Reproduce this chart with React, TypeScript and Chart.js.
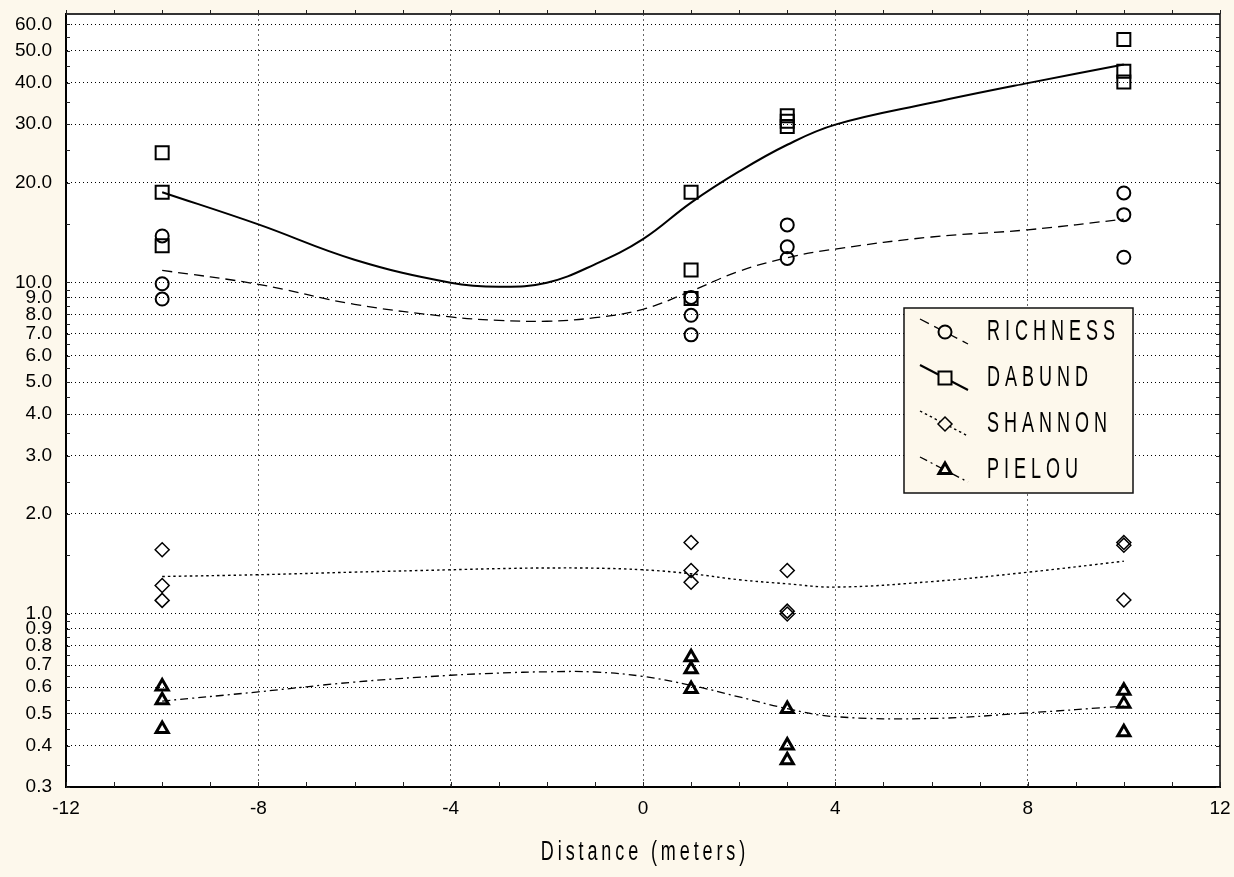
import React, { useEffect, useRef } from 'react';
import { Chart, registerables } from 'chart.js';

Chart.register(...registerables);

const FONT = '"Liberation Sans", Arial, sans-serif';
const BG = '#FDF8EC';

// ---- data ----
const seriesNames = ['RICHNESS', 'DABUND', 'SHANNON', 'PIELOU'];
const sampleX = [-10, -10, -10, 1, 1, 1, 3, 3, 3, 10, 10, 10];
const richness = [13.8, 9.9, 8.9, 9.0, 7.95, 6.94, 14.9, 12.8, 11.8, 18.6, 16.0, 11.9];
const dabund = [24.6, 18.7, 12.9, 18.7, 10.9, 8.93, 31.8, 30.6, 29.5, 54.0, 43.3, 40.2];
const shannon = [1.56, 1.217, 1.097, 1.64, 1.35, 1.245, 1.35, 1.018, 0.998, 1.64, 1.61, 1.10];
const pielou = [0.603, 0.548, 0.449, 0.739, 0.68, 0.593, 0.516, 0.40, 0.361, 0.586, 0.535, 0.439];

const fitX = [-10, -8, -6, -4, -3, -2, -1, 0, 1, 2, 3, 4, 6, 8, 10];
const richnessFit = [10.87, 9.86, 8.58, 7.86, 7.68, 7.63, 7.82, 8.29, 9.41, 10.8, 11.86, 12.6, 13.7, 14.4, 15.5];
const dabundFit = [18.7, 14.95, 11.7, 9.97, 9.7, 9.97, 11.33, 13.5, 17.4, 21.6, 26.0, 29.9, 34.8, 39.9, 45.4];
const shannonFit = [1.295, 1.311, 1.335, 1.357, 1.368, 1.374, 1.372, 1.357, 1.32, 1.266, 1.231, 1.203, 1.25, 1.334, 1.44];
const pielouFit = [0.545, 0.581, 0.622, 0.652, 0.662, 0.668, 0.667, 0.647, 0.608, 0.561, 0.517, 0.489, 0.483, 0.502, 0.526];

const xTicks = [-12, -8, -4, 0, 4, 8, 12];
const yTicks = [0.3, 0.4, 0.5, 0.6, 0.7, 0.8, 0.9, 1, 2, 3, 4, 5, 6, 7, 8, 9, 10, 20, 30, 40, 50, 60];
const yMin = 0.3;
const yMax = 64.5;
const xTitle = 'Distance (meters)';

// ---- styles ----
const styles = [
  { dash: [10, 6], width: 1.3, point: 'circle', r: 6.5, bw: 2 },
  { dash: [], width: 2, point: 'rect', r: 9.2, bw: 2 },
  { dash: [2.5, 3], width: 1.4, point: 'rectRot', r: 7, bw: 1.5 },
  { dash: [8, 4, 2, 4], width: 1.3, point: 'triangle', r: 7, bw: 3 },
];

function drawMarker(ctx: CanvasRenderingContext2D, kind: string, x: number, y: number, r: number) {
  ctx.beginPath();
  if (kind === 'circle') {
    ctx.arc(x, y, r, 0, Math.PI * 2);
  } else if (kind === 'rect') {
    const s = r * Math.SQRT1_2;
    ctx.rect(x - s, y - s, 2 * s, 2 * s);
  } else if (kind === 'rectRot') {
    ctx.moveTo(x, y - r);
    ctx.lineTo(x + r, y);
    ctx.lineTo(x, y + r);
    ctx.lineTo(x - r, y);
    ctx.closePath();
  } else {
    ctx.moveTo(x, y - r);
    ctx.lineTo(x + r * 0.866, y + r / 2);
    ctx.lineTo(x - r * 0.866, y + r / 2);
    ctx.closePath();
  }
  ctx.fill();
  ctx.stroke();
}

const decor = {
  id: 'decor',
  beforeDraw(chart: any) {
    const { ctx, chartArea: a } = chart;
    ctx.save();
    ctx.fillStyle = BG;
    ctx.fillRect(0, 0, chart.width, chart.height);
    ctx.fillStyle = '#ffffff';
    ctx.fillRect(a.left, a.top, a.right - a.left, a.bottom - a.top);
    ctx.restore();
  },
  afterDraw(chart: any) {
    const { ctx, chartArea: a } = chart;
    const xs = chart.scales.x;
    const ys = chart.scales.y;
    ctx.save();
    // frame top / right
    ctx.strokeStyle = '#333';
    ctx.lineWidth = 2;
    ctx.beginPath();
    ctx.moveTo(a.left, a.top);
    ctx.lineTo(a.right, a.top);
    ctx.stroke();
    ctx.strokeStyle = '#000';
    ctx.lineWidth = 1.5;
    ctx.beginPath();
    ctx.moveTo(a.right, a.top);
    ctx.lineTo(a.right, a.bottom);
    ctx.stroke();
    // x minor ticks
    ctx.lineWidth = 1;
    ctx.strokeStyle = '#222';
    for (let v = -12; v <= 12; v++) {
      const px = Math.round(xs.getPixelForValue(v)) + 0.5;
      ctx.beginPath();
      ctx.moveTo(px, a.top);
      ctx.lineTo(px, a.top - 4);
      ctx.moveTo(px, a.bottom);
      ctx.lineTo(px, a.bottom - 5);
      ctx.stroke();
    }
    // y minor ticks
    const ym: number[] = [];
    [0.1, 1, 10].forEach((d) => {
      for (let m = 1; m < 10; m += 0.5) {
        const v = m * d;
        if (v >= yMin && v <= yMax) ym.push(v);
      }
    });
    ym.forEach((v) => {
      const py = Math.round(ys.getPixelForValue(v)) + 0.5;
      ctx.beginPath();
      ctx.moveTo(a.left, py);
      ctx.lineTo(a.left + 4, py);
      ctx.moveTo(a.right, py);
      ctx.lineTo(a.right - 4, py);
      ctx.stroke();
    });
    // legend
    const box = { x: 904, y: 308, w: 229, h: 185 };
    ctx.fillStyle = BG;
    ctx.fillRect(box.x, box.y, box.w, box.h);
    ctx.strokeStyle = '#111';
    ctx.lineWidth = 1.5;
    ctx.strokeRect(box.x, box.y, box.w, box.h);
    seriesNames.forEach((name, i) => {
      const st = styles[i];
      const cy = 332 + i * 46;
      ctx.save();
      ctx.strokeStyle = '#000';
      ctx.lineWidth = st.width;
      ctx.setLineDash(st.dash);
      ctx.beginPath();
      ctx.moveTo(920, cy - 13);
      ctx.lineTo(968, cy + 12);
      ctx.stroke();
      ctx.setLineDash([]);
      ctx.fillStyle = BG;
      ctx.lineWidth = st.bw;
      drawMarker(ctx, st.point, 945, cy, st.r);
      ctx.restore();
      ctx.save();
      ctx.fillStyle = '#000';
      ctx.font = `18px ${FONT}`;
      (ctx as any).letterSpacing = '5px';
      ctx.textBaseline = 'middle';
      ctx.textAlign = 'left';
      ctx.translate(987, cy);
      ctx.scale(1, 1.6);
      ctx.fillText(name, 0, 0);
      ctx.restore();
    });
    // x axis title
    ctx.save();
    ctx.fillStyle = '#000';
    ctx.font = `18px ${FONT}`;
    (ctx as any).letterSpacing = '3.9px';
    ctx.textBaseline = 'middle';
    ctx.textAlign = 'center';
    ctx.translate((a.left + a.right) / 2 + 2, 853);
    ctx.scale(1, 1.5);
    ctx.fillText(xTitle, 0, 0);
    ctx.restore();
    ctx.restore();
  },
};

export default function App() {
  const ref = useRef<HTMLCanvasElement>(null);
  useEffect(() => {
    const pts = (xs: number[], ys: number[]) => xs.map((x, i) => ({ x, y: ys[i] }));
    const fits = [richnessFit, dabundFit, shannonFit, pielouFit];
    const samples = [richness, dabund, shannon, pielou];
    const datasets: any[] = [];
    fits.forEach((f, i) => {
      datasets.push({
        label: seriesNames[i] + ' fit',
        data: pts(fitX, f),
        showLine: true,
        borderColor: '#000',
        borderWidth: styles[i].width,
        borderDash: styles[i].dash,
        pointRadius: 0,
        tension: 0.4,
        fill: false,
      });
    });
    samples.forEach((s, i) => {
      datasets.push({
        label: seriesNames[i],
        data: pts(sampleX, s),
        showLine: false,
        pointStyle: styles[i].point,
        pointRadius: styles[i].r,
        pointBorderWidth: styles[i].bw,
        pointBorderColor: '#000',
        pointBackgroundColor: 'rgba(0,0,0,0)',
        borderColor: '#000',
        backgroundColor: 'rgba(0,0,0,0)',
      });
    });
    const chart = new Chart(ref.current as HTMLCanvasElement, {
      type: 'scatter',
      data: { datasets },
      options: {
        animation: false,
        responsive: false,
        layout: { padding: { top: 14, right: 14, left: 0, bottom: 0 } },
        plugins: { legend: { display: false }, tooltip: { enabled: false } },
        scales: {
          x: {
            type: 'linear',
            min: -12,
            max: 12,
            afterBuildTicks: (s: any) => {
              s.ticks = xTicks.map((v) => ({ value: v }));
            },
            afterFit: (s: any) => {
              s.height = 90;
              s.paddingLeft = 0;
              s.paddingRight = 0;
            },
            ticks: {
              padding: 10,
              color: '#000',
              font: { family: FONT, size: 19 },
              autoSkip: false,
              maxRotation: 0,
              callback: (v: any) => String(v),
            },
            grid: {
              drawTicks: false,
              lineWidth: 1,
              color: (c: any) =>
                c.tick && Math.abs(c.tick.value) === 12 ? 'rgba(0,0,0,0)' : '#666',
            },
            border: { display: true, color: '#000', width: 2, dash: [2, 3] },
          },
          y: {
            type: 'logarithmic',
            min: yMin,
            max: yMax,
            afterBuildTicks: (s: any) => {
              s.ticks = yTicks.map((v) => ({ value: v }));
            },
            afterFit: (s: any) => {
              s.width = 66;
              s.paddingTop = 0;
              s.paddingBottom = 0;
            },
            ticks: {
              padding: 14,
              color: '#000',
              font: { family: FONT, size: 19 },
              autoSkip: false,
              callback: (v: any) => Number(v).toFixed(1),
            },
            grid: {
              drawTicks: false,
              lineWidth: 1,
              color: '#000',
            },
            border: { display: true, color: '#000', width: 2, dash: [1, 3] },
          },
        },
      } as any,
      plugins: [decor],
    });
    return () => chart.destroy();
  }, []);
  return (
    <div style={{ position: 'fixed', left: 0, top: 0, width: 1234, height: 877, background: BG }}>
      <canvas ref={ref} width={1234} height={877} style={{ display: 'block' }} />
    </div>
  );
}
